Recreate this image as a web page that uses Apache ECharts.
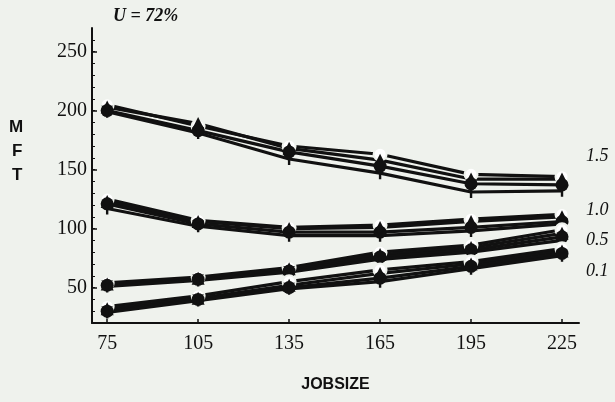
<!DOCTYPE html>
<html>
<head>
<meta charset="utf-8">
<script src="https://cdn.jsdelivr.net/npm/echarts@6/dist/echarts.min.js"></script>
<style>
  html, body { margin: 0; padding: 0; background: #eff2ed; }
  #chart { width: 615px; height: 402px; }
</style>
</head>
<body>
<div id="chart"></div>
<script>
// job sizes on the x axis
const jobSizes = [75, 105, 135, 165, 195, 225];
const yTicks = [50, 100, 150, 200, 250];

// MFT curves, four runs per CV group (circle, triangle, dot, cross)
const cv15 = [
  [205, 187, 170, 163, 146, 144],
  [203, 189, 168, 158, 142, 142],
  [200, 183, 165, 153, 138, 137],
  [199, 181, 159, 147, 131, 132]
];
const cv10 = [
  [125, 107, 101, 103, 108, 112],
  [123, 106, 100, 101, 106, 110],
  [121, 104, 97, 97, 101, 106],
  [117, 102, 94, 94, 98, 104]
];
const cv05 = [
  [54, 59, 67, 80, 86, 99],
  [53, 58, 66, 78, 84, 96],
  [52, 57, 64, 76, 82, 93],
  [51, 56, 63, 74, 80, 90]
];
const cv01 = [
  [34, 43, 55, 65, 72, 83],
  [32, 41, 52, 62, 70, 81],
  [30, 40, 50, 58, 68, 79],
  [29, 39, 49, 55, 66, 77]
];
const groupNames = ['1.5', '1.0', '0.5', '0.1'];

const crossPath = 'path://M0,0 L2,0 L5,3 L8,0 L10,0 L6,4 L6,10 L4,10 L4,4 Z';
const markers = [
  { symbol: 'emptyCircle', size: 13 },
  { symbol: 'triangle', size: 13 },
  { symbol: 'circle', size: 13 },
  { symbol: crossPath, size: 12 }
];

const minorTicks = [];
for (let v = 30; v <= 260; v += 10) minorTicks.push(v);

const series = [];
[cv15, cv10, cv05, cv01].forEach((grp, gi) => {
  grp.forEach((vals, si) => {
    series.push({
      name: groupNames[gi] + '-' + si,
      type: 'line',
      data: vals.map((v, i) => [jobSizes[i], v]),
      symbol: markers[si].symbol,
      symbolSize: markers[si].size,
      showAllSymbol: true,
      lineStyle: { color: '#111', width: 3.2 },
      itemStyle: { color: si === 0 ? '#eff2ed' : '#111', borderColor: '#111', borderWidth: si === 0 ? 3 : 0 },
      emphasis: { disabled: true },
      silent: true,
      animation: false
    });
  });
});

const chart = echarts.init(document.getElementById('chart'));
chart.setOption({
  backgroundColor: '#eff2ed',
  animation: false,
  grid: { left: 92, right: 36, top: 28, bottom: 79 },
  xAxis: {
    type: 'value',
    min: 70,
    max: 230.6,
    name: 'JOBSIZE',
    nameLocation: 'middle',
    nameGap: 54,
    nameTextStyle: { fontFamily: 'Liberation Sans', fontWeight: 'bold', fontSize: 16, color: '#111' },
    axisLine: { lineStyle: { color: '#111', width: 2 } },
    axisTick: { inside: true, length: 4, customValues: jobSizes, lineStyle: { color: '#111', width: 1.5 } },
    axisLabel: { customValues: jobSizes, margin: 11, fontFamily: 'Liberation Serif', fontSize: 20, color: '#111' },
    splitLine: { show: false }
  },
  yAxis: [
    {
      type: 'value',
      min: 20,
      max: 270,
      axisLine: { show: true, lineStyle: { color: '#111', width: 2 } },
      axisTick: { inside: true, length: 5, customValues: yTicks, lineStyle: { color: '#111', width: 1.5 } },
      axisLabel: { customValues: yTicks, margin: 5, fontFamily: 'Liberation Serif', fontSize: 20, color: '#111' },
      splitLine: { show: false }
    },
    {
      type: 'value',
      min: 20,
      max: 270,
      position: 'left',
      axisLine: { show: false },
      axisTick: { show: true, inside: true, length: 3, customValues: minorTicks, lineStyle: { color: '#111', width: 1 } },
      axisLabel: { show: false },
      splitLine: { show: false }
    }
  ],
  graphic: [
    { type: 'text', left: 113, top: 7, style: { text: 'U = 72%', font: 'italic bold 18px "Liberation Serif"', fill: '#111' } },
    { type: 'text', left: 9, top: 119, style: { text: 'M', font: 'bold 17px "Liberation Sans"', fill: '#111' } },
    { type: 'text', left: 12, top: 143, style: { text: 'F', font: 'bold 17px "Liberation Sans"', fill: '#111' } },
    { type: 'text', left: 12, top: 167, style: { text: 'T', font: 'bold 17px "Liberation Sans"', fill: '#111' } },
    { type: 'text', left: 586, top: 147, style: { text: '1.5', font: 'italic 18px "Liberation Serif"', fill: '#111' } },
    { type: 'text', left: 586, top: 201, style: { text: '1.0', font: 'italic 18px "Liberation Serif"', fill: '#111' } },
    { type: 'text', left: 586, top: 231, style: { text: '0.5', font: 'italic 18px "Liberation Serif"', fill: '#111' } },
    { type: 'text', left: 586, top: 262, style: { text: '0.1', font: 'italic 18px "Liberation Serif"', fill: '#111' } }
  ],
  series: series
});
</script>
</body>
</html>
